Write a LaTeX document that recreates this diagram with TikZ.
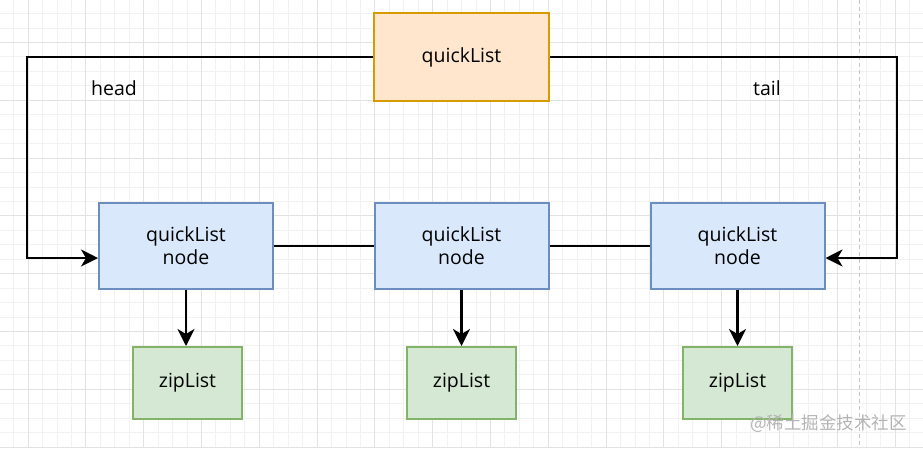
\documentclass[tikz,border=0pt]{standalone}
\usepackage{fontspec}
\setmainfont{Open Sans}
\newfontfamily\cjkfont{Noto Sans CJK SC}
\usetikzlibrary{arrows.meta,calc}
\definecolor{gridminor}{HTML}{F1F1F1}
\definecolor{gridmajor}{HTML}{E2E2E2}
\definecolor{orfill}{HTML}{FFE6CC}
\definecolor{ordraw}{HTML}{D79B00}
\definecolor{blfill}{HTML}{DAE8FC}
\definecolor{bldraw}{HTML}{6C8EBF}
\definecolor{grfill}{HTML}{D5E8D4}
\definecolor{grdraw}{HTML}{82B366}
\definecolor{wmark}{HTML}{B4B4B4}
\tikzset{
  boxbase/.style={draw, line width=2pt, inner sep=0pt, font=\fontsize{19.5}{23}\selectfont, align=center},
  topbox/.style={boxbase, fill=orfill, draw=ordraw, minimum width=175pt, minimum height=88pt},
  qlnode/.style={boxbase, fill=blfill, draw=bldraw, minimum width=174pt, minimum height=86pt},
  zipbox/.style={boxbase, fill=grfill, draw=grdraw, minimum width=109pt, minimum height=72pt},
  conn/.style={line width=2.4pt, black},
  arr/.style={conn, -{Stealth[length=17pt,width=17pt,inset=5pt]}},
  lbl/.style={font=\fontsize{19.5}{22}\selectfont, inner sep=0pt}
}
\begin{document}
\begin{tikzpicture}[x=1pt,y=-1pt]
\useasboundingbox (0,0) rectangle (923,448);
\fill[white] (0,0) rectangle (923,448);
% grid
\foreach \k in {0,...,63} {\draw[gridminor, line width=0.8pt] ({13.55+14.45*\k},0) -- ({13.55+14.45*\k},448);}
\foreach \k in {0,...,30} {\draw[gridminor, line width=0.8pt] (0,{13.5+14.45*\k}) -- (923,{13.5+14.45*\k});}
\foreach \k in {0,...,15} {\draw[gridmajor, line width=0.8pt] ({28+57.8*\k},0) -- ({28+57.8*\k},448);}
\foreach \k in {0,...,7} {\draw[gridmajor, line width=0.8pt] (0,{42.4+57.8*\k}) -- (923,{42.4+57.8*\k});}
% page break line
\draw[gray!45, line width=0.8pt, dash pattern=on 4pt off 3pt] (859,0) -- (859,448);

% nodes
\node[topbox] (top) at (461.5,57) {quickList};
\node[qlnode] (lb) at (186,246) {quickList\\node};
\node[qlnode] (mb) at (461.5,246) {quickList\\node};
\node[qlnode] (rb) at (737.5,246) {quickList\\node};
\node[zipbox] (lg) at (187.5,383) {zipList};
\node[zipbox] (mg) at (461.5,383) {zipList};
\node[zipbox] (rg) at (737.5,383) {zipList};

\node[lbl] (head) at (114,88) {head};
\node[lbl] (tail) at (767,88) {tail};

% connectors
\coordinate (hl1) at (27,57);
\coordinate (hl2) at (27,258);
\coordinate (tr1) at (897,57);
\coordinate (tr2) at (897,258);
\draw[arr] (top.west) -- (hl1) -- (hl2) -- (hl2 -| lb.west);
\draw[arr] (top.east) -- (tr1) -- (tr2) -- (tr2 -| rb.east);
\draw[conn] (lb.east) -- (mb.west);
\draw[conn] (mb.east) -- (rb.west);
\draw[arr] (lb.south) -- (lb.south |- lg.north);
\draw[arr] (mb.south) -- (mb.south |- mg.north);
\draw[arr] (rb.south) -- (rb.south |- rg.north);

% watermark
\node[anchor=east, text=wmark, inner sep=0pt, font=\cjkfont\fontsize{17.5}{19}\selectfont] (wm) at (907,424) {@稀土掘金技术社区};
\end{tikzpicture}
\end{document}
